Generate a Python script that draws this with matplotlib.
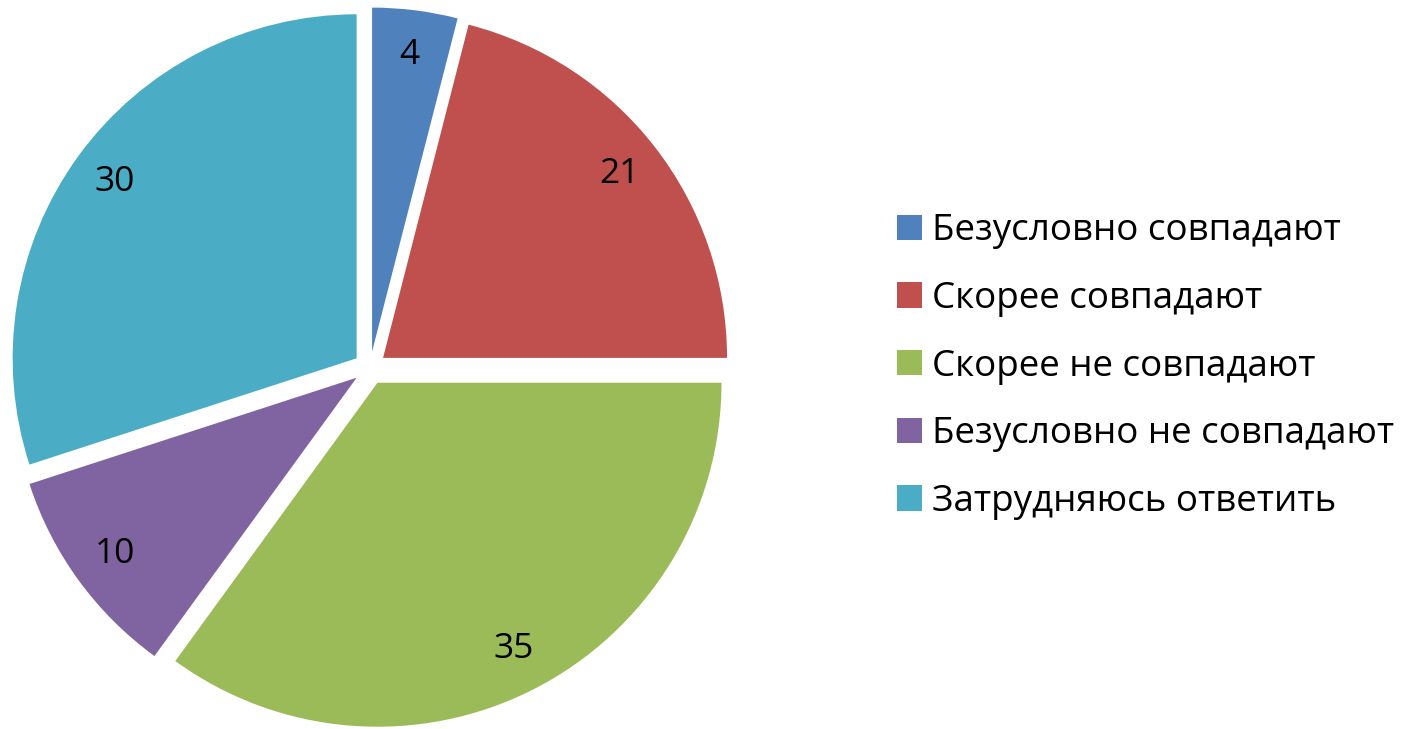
import matplotlib
matplotlib.use("Agg")
import matplotlib.pyplot as plt

plt.rcParams['font.family'] = ['Open Sans', 'DejaVu Sans']

categories = ['Безусловно совпадают', 'Скорее совпадают', 'Скорее не совпадают',
              'Безусловно не совпадают', 'Затрудняюсь ответить']
values = [4, 21, 35, 10, 30]
colors = ['#4F81BD', '#C0504D', '#9BBB59', '#8064A2', '#4BACC6']

W, H = 1404, 729
cx, cy, R = 370, 368, 344   # pie centre and radius in pixels

fig = plt.figure(figsize=(W / 100, H / 100), dpi=100)
ax = fig.add_axes([0, 0, 1, 1])

total = sum(values)
wedges, texts, autotexts = ax.pie(
    values, colors=colors, startangle=90, counterclock=False,
    explode=[0.048] * len(values), radius=1,
    autopct=lambda p: f"{p * total / 100:.0f}", pctdistance=0.87,
    wedgeprops=dict(linewidth=0),
    textprops=dict(fontsize=25.5, color='black'))

ax.set_xlim(-cx / R, (W - cx) / R)
ax.set_ylim(-(H - cy) / R, cy / R)
ax.set_aspect('auto')
ax.axis('off')

ax.legend(wedges, categories, loc='center left',
          bbox_to_anchor=(897 / W, 0.497), bbox_transform=fig.transFigure,
          frameon=False, fontsize=26.5, handlelength=0.68, handleheight=0.68,
          handletextpad=0.27, labelspacing=0.86, borderaxespad=0, borderpad=0)

fig.savefig('out.png', dpi=100)
